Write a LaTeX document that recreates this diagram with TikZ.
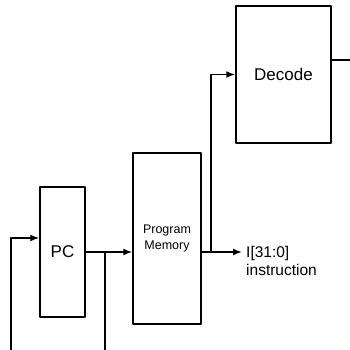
\documentclass[tikz,border=0pt]{standalone}
\usepackage{fontspec}
\setmainfont{Liberation Sans}
\usetikzlibrary{arrows.meta}

\begin{document}
\begin{tikzpicture}[line cap=round,line join=round,x=1pt,y=-1pt,
		>={Latex[length=9pt,width=7pt]},
		block/.style={draw,line width=1.5pt,rectangle,inner sep=0pt},
		wire/.style={line width=1.5pt}]
				\useasboundingbox (0,0) rectangle (350,350);
				% Blocs
				\node[block,minimum width=45pt,minimum height=130pt,font=\fontsize{17}{19}\selectfont] (pc) at (62.5,252) {PC};
				\node[block,minimum width=68pt,minimum height=171pt,align=center,font=\fontsize{12.5}{15.5}\selectfont] (pmem) at (167,238.5) {Program\\Memory};
				\node[block,minimum width=95pt,minimum height=137pt,font=\fontsize{17}{19}\selectfont] (dec) at (283.5,74.5) {Decode};
				% Points libres
				\coordinate (pcin) at (11,350);
				\coordinate (pcout) at (105,350);
				\coordinate (instr) at (242,252);
				\coordinate (tap) at (211,252);
				\coordinate (decout) at (350,60);
				% Fils
				\draw[wire,->] (pcin) |- ([yshift=14pt]pc.west);
				\draw[wire,->] (pc.east) -- (pmem.west |- pc.east);
				\draw[wire] (pcout) -- (pcout |- pc.east);
				\draw[wire,->] (pmem.east |- instr) -- (instr);
				\draw[wire,->] (tap) |- (dec.west);
				\draw[wire] ([yshift=14.5pt]dec.east) -- (decout);
				% Etiquette
				\node[anchor=west,align=left,inner sep=0pt,font=\fontsize{15.5}{18}\selectfont] (ilabel) at ([xshift=4pt,yshift=-9pt]instr) {I[31:0]\\instruction};
		\end{tikzpicture}
\end{document}
